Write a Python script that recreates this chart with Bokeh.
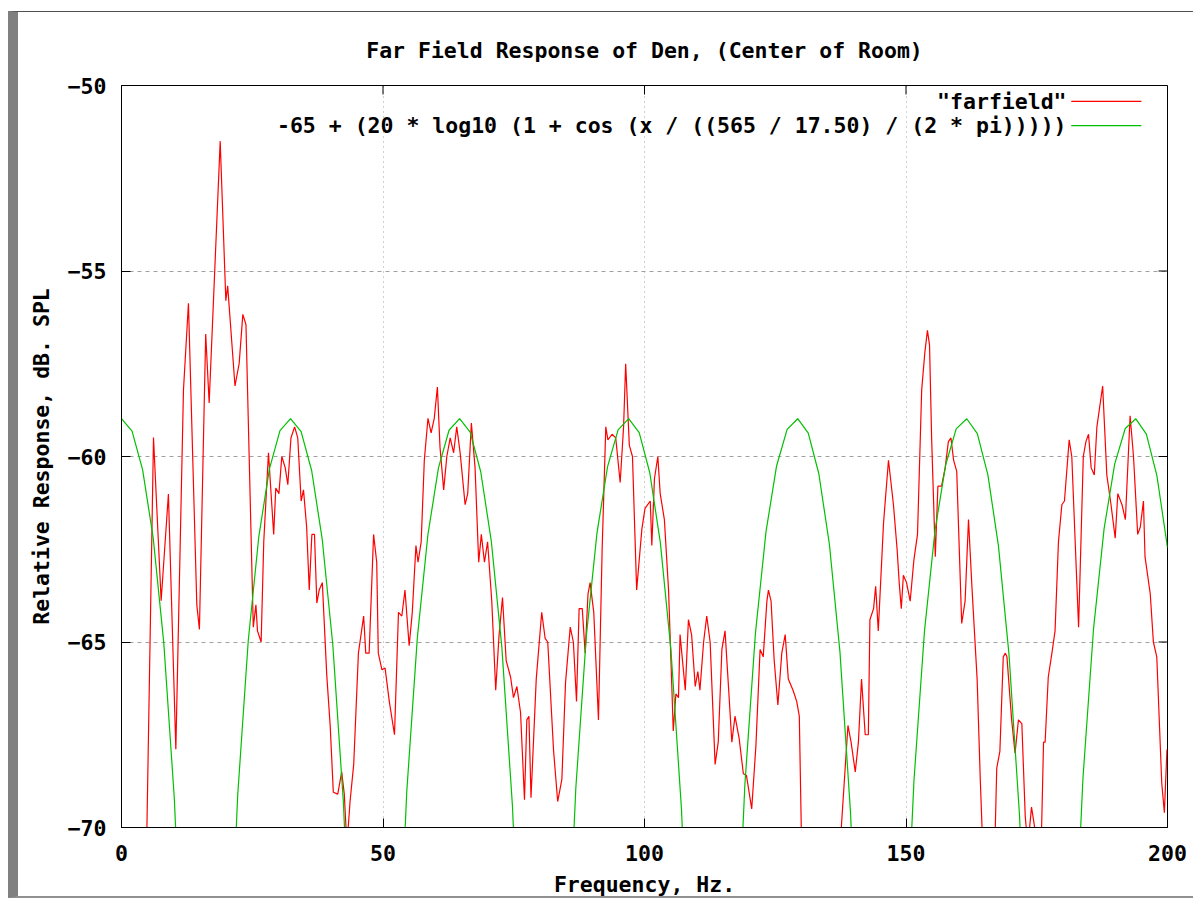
import numpy as np
from bokeh.plotting import figure
from bokeh.models import Range1d, FixedTicker, Label
from bokeh.embed import file_html
from bokeh.resources import INLINE

freq = [4.5, 6.12, 7.58, 8.97, 10.39, 11.85, 12.8, 14.4, 14.9, 16.1, 16.76, 18.87, 19.95, 20.3,
        21.7, 22.5, 23.2, 23.8, 25.2, 25.7, 26.0, 26.7, 27.2, 28.1, 29.1, 29.5, 30.1, 30.65,
        31.3, 31.8, 32.4, 33.1, 33.7, 34.35, 34.8, 35.4, 35.9, 36.4, 36.9, 37.35, 37.8, 38.4,
        39.25, 39.9, 40.5, 41.35, 42.1, 42.6, 43.1, 43.7, 44.4, 45.3, 46.3, 46.7, 47.35, 48.2,
        48.8, 49.1, 49.8, 50.4, 51.2, 52.2, 52.96, 53.6, 54.2, 55.0, 55.6, 56.3, 56.7, 57.3,
        57.9, 58.6, 59.2, 59.8, 60.4, 60.9, 61.6, 62.2, 62.85, 63.5, 64.1, 64.75, 65.7, 66.2,
        66.9, 67.6, 68.3, 68.8, 69.4, 70.0, 70.8, 71.55, 72.2, 72.85, 73.55, 74.4, 74.95, 75.6,
        76.3, 77.05, 77.5, 77.9, 78.3, 79.3, 80.35, 81.0, 81.5, 82.6, 83.4, 84.2, 84.9, 85.8,
        86.4, 87.0, 87.5, 88.1, 88.65, 89.2, 89.6, 90.3, 91.2, 91.9, 92.6, 93.0, 93.8, 94.5,
        95.35, 96.0, 96.4, 97.1, 97.7, 98.5, 99.5, 100.1, 101.1, 101.4, 101.9, 102.55, 103.0,
        103.8, 104.6, 105.2, 105.5, 106.0, 106.5, 106.8, 107.8, 108.4, 109.0, 109.7, 110.2,
        110.6, 111.3, 111.9, 112.55, 113.5, 114.1, 114.8, 115.4, 116.1, 116.7, 117.3, 118.1,
        118.9, 119.5, 120.5, 121.3, 122.1, 122.7, 123.4, 123.7, 124.2, 124.8, 125.5, 126.25,
        126.9, 127.5, 128.4, 129.1, 129.6, 130.1, 131.5, 136.0, 137.4, 138.9, 139.5, 140.3,
        140.9, 141.5, 142.2, 142.8, 143.1, 143.8, 144.2, 144.7, 145.7, 146.65, 147.6, 148.3,
        148.7, 149.1, 149.5, 150.1, 150.8, 151.5, 152.2, 153.0, 153.6, 154.1, 154.5, 154.9, 155.6,
        156.1, 156.8, 157.5, 158.1, 158.6, 159.1, 159.7, 160.65, 161.3, 161.95, 162.6, 163.6,
        164.2, 164.8, 165.8, 166.9, 167.35, 167.95, 168.6, 169.0, 169.3, 170.2, 170.85, 171.5,
        172.15, 172.8, 173.3, 174.0, 174.5, 175.0, 175.8, 176.3, 176.6, 177.2, 177.9, 178.5,
        179.15, 179.8, 180.3, 181.2, 181.7, 183.0, 183.9, 184.4, 184.9, 185.4, 186.0, 186.5,
        187.6, 188.4, 189.2, 190.0, 190.5, 191.3, 191.95, 192.85, 193.5, 194.3, 194.8, 195.4,
        195.7, 196.7, 197.3, 197.95, 198.9, 199.4, 199.9]
spl = [-73.0, -59.49, -63.89, -61.01, -67.89, -58.2, -55.87, -64.0, -64.66, -56.7, -58.56, -51.5, -55.8, -55.4,
       -58.1, -57.49, -56.17, -56.45, -64.6, -64.0, -64.7, -65.0, -62.3, -59.9, -62.1, -60.85, -61.0, -60.0,
       -60.3, -60.76, -59.5, -59.2, -59.5, -61.2, -60.9, -61.9, -63.6, -62.1, -62.1, -63.95, -63.6, -63.4,
       -65.9, -67.25, -69.05, -69.1, -68.5, -69.1, -70.5, -69.3, -68.3, -65.3, -64.3, -65.3, -65.3, -62.1,
       -62.85, -65.3, -65.75, -65.7, -66.6, -67.5, -64.2, -64.3, -63.6, -65.1, -64.2, -62.4, -62.85, -62.3,
       -60.1, -58.97, -59.36, -58.97, -58.13, -59.75, -60.9, -60.0, -59.5, -59.9, -59.2, -59.9, -61.3, -61.0,
       -59.1, -60.3, -62.85, -62.1, -62.85, -62.3, -63.9, -66.3, -64.8, -63.8, -65.5, -65.95, -66.5, -66.2,
       -66.9, -69.25, -67.1, -67.0, -69.2, -66.0, -64.2, -64.9, -65.0, -67.9, -69.3, -68.7, -66.1, -64.6,
       -65.0, -66.6, -64.1, -64.1, -65.3, -63.7, -63.4, -64.2, -67.1, -62.5, -59.2, -59.55, -59.4, -59.5,
       -60.7, -59.2, -57.5, -59.7, -60.0, -63.6, -61.95, -61.4, -61.2, -62.4, -60.6, -60.0, -61.0,
       -61.7, -63.6, -66.1, -67.4, -66.4, -66.5, -64.8, -66.3, -64.4, -64.8, -66.2, -65.8,
       -66.3, -65.0, -64.3, -65.0, -68.3, -67.7, -65.2, -64.7, -66.3, -67.7, -67.0, -67.6,
       -68.55, -68.6, -69.5, -67.8, -65.2, -65.4, -63.9, -63.6, -63.9, -65.5, -66.7, -65.3,
       -64.8, -66.0, -66.3, -66.6, -67.0, -71.0, -74.0, -74.0, -70.5, -67.25, -67.7, -68.5,
       -67.7, -66.0, -67.5, -67.5, -64.4, -64.1, -63.5, -64.7, -61.8, -60.1, -61.3, -62.5,
       -63.4, -64.1, -63.2, -63.4, -63.9, -62.8, -62.1, -58.2, -57.2, -56.6, -57.0, -59.5, -62.7,
       -60.8, -60.8, -60.3, -59.6, -59.5, -60.1, -60.4, -64.5, -63.9, -61.7, -63.5, -66.0,
       -68.7, -71.0, -73.0, -71.0, -68.4, -67.95, -65.4, -65.3, -65.4, -67.1, -68.0, -67.1,
       -67.2, -69.7, -70.5, -69.45, -69.9, -70.5, -70.8, -67.7, -67.7, -65.95, -65.3, -64.7,
       -62.3, -61.3, -61.2, -59.55, -60.0, -64.6, -60.0, -59.6, -59.4, -60.3, -60.5, -59.2,
       -58.1, -60.5, -61.3, -62.2, -61.0, -61.3, -61.7, -58.9, -60.0, -62.1, -61.9, -61.2,
       -62.7, -63.7, -65.0, -65.4, -68.8, -69.6, -67.9]

# ---- the plotted function named in the legend (gnuplot default 100 samples) ----
period_hz = 565 / 17.50
green_x = np.linspace(0, 200, 100)
green_y = -65 + 20 * np.log10(np.maximum(1 + np.cos(green_x / (period_hz / (2 * np.pi))), 1e-9))

x_ticks = [0, 50, 100, 150, 200]
y_ticks = [-70, -65, -60, -55, -50]
title_text = "Far Field Response of Den, (Center of Room)"
x_label = "Frequency, Hz."
y_label = "Relative Response, dB. SPL"
legend_labels = ['"farfield"', "-65 + (20 * log10 (1 + cos (x / ((565 / 17.50) / (2 * pi)))))"]

FONT = "DejaVu Sans Mono"
FS = "21.5px"
RED = "#ff0000"
GREEN = "#00c000"

X0, X1, Y0, Y1 = 0, 200, -70, -50
FRAME_W, FRAME_H = 1046, 743
TICK_PX = 9

p = figure(width=1185, height=887, output_backend="svg", toolbar_location=None,
           x_range=Range1d(X0, X1), y_range=Range1d(Y0, Y1),
           min_border_left=103, min_border_right=36, min_border_top=73, min_border_bottom=71,
           title=title_text)
p.styles = {"margin-left": "8px", "margin-top": "11px",
            "border-left": "10px solid #808080", "border-top": "1px solid #505050",
            "border-bottom": "2px solid #909090"}
p.background_fill_color = "white"
p.border_fill_color = "white"
p.outline_line_color = "black"
p.outline_line_width = 1

p.title.text_font = FONT
p.title.text_font_size = FS
p.title.text_font_style = "bold"
p.title.align = "center"
p.title.text_color = "black"
p.title.standoff = 46

for ax in (p.xaxis[0], p.yaxis[0]):
    ax.major_tick_in = TICK_PX
    ax.major_tick_out = 0
    ax.minor_tick_line_color = None
    ax.axis_line_color = "black"
    ax.major_tick_line_color = "black"
    ax.major_label_text_font = FONT
    ax.major_label_text_font_size = FS
    ax.major_label_text_font_style = "bold"
    ax.major_label_text_color = "black"
    ax.axis_label_text_font = FONT
    ax.axis_label_text_font_size = FS
    ax.axis_label_text_font_style = "bold"
    ax.axis_label_text_color = "black"

xa = p.xaxis[0]
ya = p.yaxis[0]
xa.ticker = FixedTicker(ticks=x_ticks)
ya.ticker = FixedTicker(ticks=y_ticks)
xa.axis_label = x_label
ya.axis_label = y_label
xa.major_label_standoff = 17
xa.axis_label_standoff = 8
ya.major_label_standoff = 15
ya.axis_label_standoff = 11

# mirrored inward ticks on the top and right borders
dy = TICK_PX * (Y1 - Y0) / FRAME_H
dx = TICK_PX * (X1 - X0) / FRAME_W
p.segment(x0=x_ticks, y0=[Y1] * len(x_ticks), x1=x_ticks, y1=[Y1 - dy] * len(x_ticks),
          line_color="black", line_width=1)
p.segment(x0=[X1] * len(y_ticks), y0=y_ticks, x1=[X1 - dx] * len(y_ticks), y1=y_ticks,
          line_color="black", line_width=1)

p.xgrid.ticker = FixedTicker(ticks=[50, 100, 150])
p.ygrid.ticker = FixedTicker(ticks=[-65, -60, -55])
p.xgrid.grid_line_color = "#a0a0a0"
p.xgrid.grid_line_dash = "1 4"
p.ygrid.grid_line_color = "#a0a0a0"
p.ygrid.grid_line_dash = "4 4"

p.line(freq, spl, line_color=RED, line_width=1.2)
p.line(green_x, green_y, line_color=GREEN, line_width=1.2)

# legend (text at left, sample line at right, gnuplot style)
leg_y = [-50.43, -51.08]
for lab, yy in zip(legend_labels, leg_y):
    p.add_layout(Label(x=180.7, y=yy, text=lab, text_align="right", text_baseline="middle",
                       text_font=FONT, text_font_size=FS, text_font_style="bold", text_color="black"))
p.segment(x0=[181.6, 181.6], y0=leg_y, x1=[195.0, 195.0], y1=leg_y,
          line_color=[RED, GREEN], line_width=1.2)

open("out.html", "w").write(file_html(p, INLINE))
